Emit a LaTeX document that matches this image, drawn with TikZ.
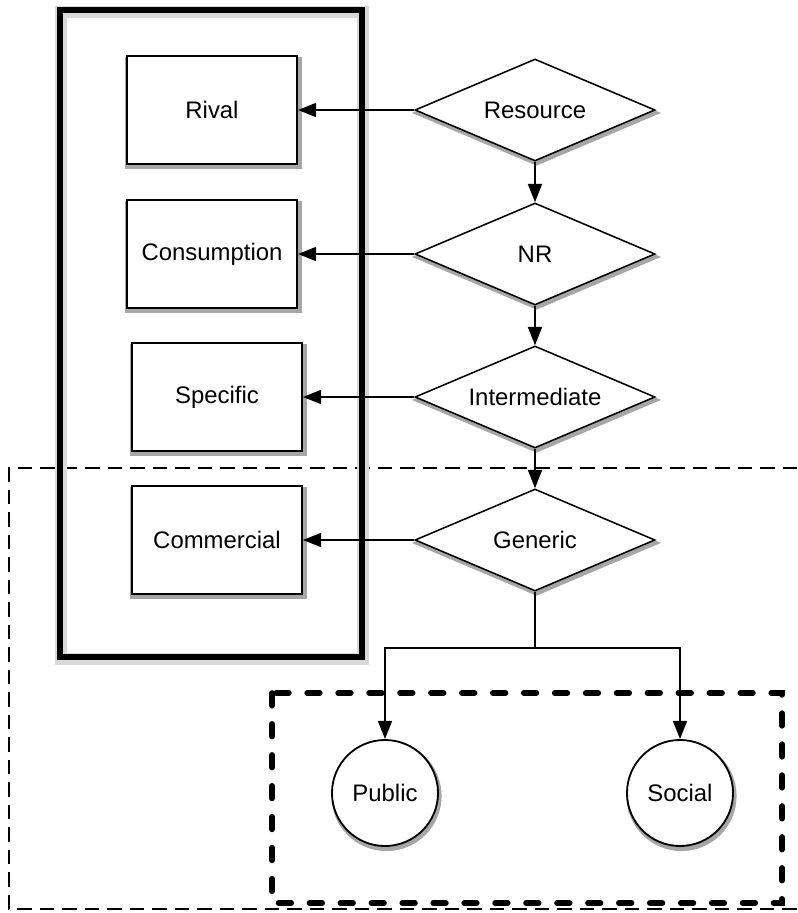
\documentclass[tikz,border=0pt]{standalone}
\usepackage{fontspec}
\setmainfont{Liberation Sans}
\usetikzlibrary{shapes,arrows.meta,positioning,shadows}

\begin{document}
\begin{tikzpicture}[x=0.025cm,y=-0.025cm,
  every node/.style={font=\fontsize{17}{20}\selectfont},
  halo/.style={general shadow={fill=black!35,shadow xshift=1pt,shadow yshift=-2pt,shadow scale=1.04}},
  box/.style={draw,line width=1.3pt,fill=white,minimum width=4.25cm,minimum height=2.7cm,halo},
  test/.style={diamond,aspect=2.35,draw,line width=1.1pt,fill=white,minimum width=6cm,minimum height=2.55cm,inner sep=0pt,halo},
  leaf/.style={circle,draw,line width=1.3pt,fill=white,minimum size=2.65cm,halo},
  link/.style={line width=1.1pt,-{Triangle[length=13pt,width=10pt]}}]
\useasboundingbox (0,0) rectangle (797,913);

% regions
\draw[line width=1.1pt,dash pattern=on 10pt off 6pt] (797,468) -- (9,468) -- (9,909) -- (797,909);
\draw[line width=8pt,black!15] (61,12) rectangle (363,659);
\draw[line width=4.3pt] (60,10) rectangle (362,657);
\draw[line width=4pt,line cap=round,dash pattern=on 9pt off 13pt] (272,693) rectangle (782,903);

% left column
\node[box] (rival) at (212,110) {Rival};
\node[box] (cons) at (212,254) {Consumption};
\node[box] (spec) at (217,397) {Specific};
\node[box] (comm) at (217,540) {Commercial};

% decisions
\node[test] (res) at (535,110) {Resource};
\node[test] (nr) at (535,254) {NR};
\node[test] (inter) at (535,397) {Intermediate};
\node[test] (gen) at (535,540) {Generic};

\node[leaf] (pub) at (385,793) {Public};
\node[leaf] (soc) at (680,793) {Social};

\draw[link] (res) -- (rival);
\draw[link] (nr) -- (cons);
\draw[link] (inter) -- (spec);
\draw[link] (gen) -- (comm);
\draw[link] (res) -- (nr);
\draw[link] (nr) -- (inter);
\draw[link] (inter) -- (gen);

\coordinate (fork) at (535,648);
\draw[line width=1.1pt] (gen.south) -- (fork);
\draw[link] (fork) -| (pub.north);
\draw[link] (fork) -| (soc.north);
\end{tikzpicture}
\end{document}
